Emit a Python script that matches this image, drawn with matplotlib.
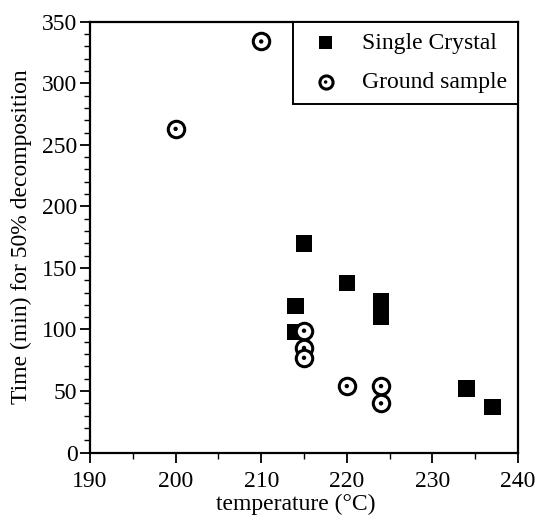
import numpy as np
import matplotlib.pyplot as plt
from matplotlib.ticker import MultipleLocator
from matplotlib.legend_handler import HandlerTuple

plt.rcParams['font.family'] = ['Liberation Serif', 'DejaVu Serif']

# single crystal
crystal_temp = [214, 214, 215, 220, 224, 224, 234, 237]
crystal_time = [98, 119, 170, 138, 123, 110, 52, 37]

# ground sample
ground_temp = [200, 210, 215, 215, 215, 220, 224, 224]
ground_time = [263, 334, 99, 85, 77, 54, 54, 40]

fig = plt.figure(figsize=(5.39, 5.19), dpi=100)
ax = fig.add_axes([0.167, 0.128, 0.794, 0.83])

sq = ax.scatter(crystal_temp, crystal_time, marker='s', s=140, c='black',
                edgecolors='none', zorder=3)
ring = ax.scatter(ground_temp, ground_time, marker='o', s=140, facecolors='white',
                  edgecolors='black', linewidths=2.2, zorder=4)
dot = ax.scatter(ground_temp, ground_time, marker='o', s=10, c='black',
                 edgecolors='none', zorder=5)

ax.set_xlim(190, 240)
ax.set_ylim(0, 350)
ax.xaxis.set_major_locator(MultipleLocator(10))
ax.xaxis.set_minor_locator(MultipleLocator(5))
ax.yaxis.set_major_locator(MultipleLocator(50))
ax.yaxis.set_minor_locator(MultipleLocator(10))
ax.tick_params(which='major', direction='out', length=7, width=1.3, labelsize=17,
               top=False, right=False)
ax.tick_params(axis='x', which='major', pad=6)
ax.tick_params(axis='y', which='major', pad=2)
ax.tick_params(which='minor', direction='out', length=4, width=1.0, top=False, right=False)
for s in ax.spines.values():
    s.set_linewidth(1.6)

ax.set_xlabel('temperature (°C)', fontsize=17)
ax.set_ylabel('Time (min) for 50% decomposition', fontsize=17)
ax.xaxis.set_label_coords(0.48, -0.095)
ax.yaxis.set_label_coords(-0.135, 0.5)

leg = ax.legend([sq, (ring, dot)], ['Single Crystal', 'Ground sample'],
                handler_map={tuple: HandlerTuple(ndivide=1)},
                loc='upper right', borderaxespad=0, fontsize=17, fancybox=False,
                framealpha=1, edgecolor='black', handletextpad=0.6,
                borderpad=0.45, labelspacing=0.75, handlelength=1.9, markerscale=0.8)
leg.get_frame().set_linewidth(1.4)

fig.savefig('out.png', dpi=100)
